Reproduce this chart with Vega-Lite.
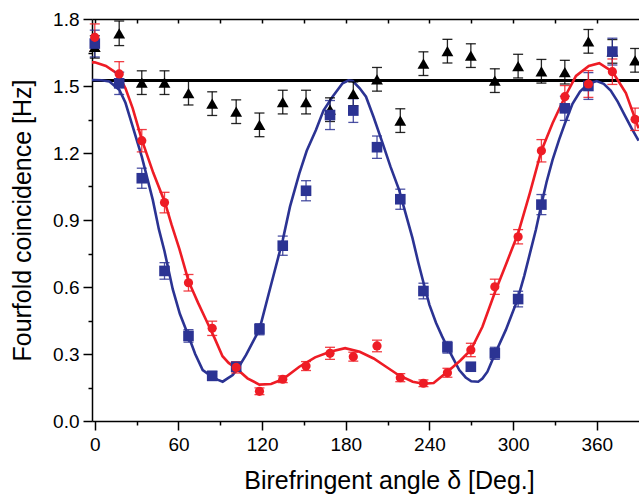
{
  "$schema": "https://vega.github.io/schema/vega-lite/v6.json",
  "width": 594,
  "height": 402,
  "autosize": {"type": "none"},
  "padding": {"left": 92, "top": 19, "right": 0, "bottom": 75},
  "background": "white",
  "config": {
    "view": {"stroke": null},
    "axis": {
      "labelFont": "Liberation Sans",
      "titleFont": "Liberation Sans",
      "labelColor": "black",
      "titleColor": "black",
      "domainColor": "black",
      "tickColor": "black",
      "domainWidth": 1.5,
      "tickWidth": 1.5,
      "labelFontSize": 19,
      "titleFontSize": 25,
      "titleFontWeight": "normal",
      "grid": false
    }
  },
  "datasets": {
    "pts": [
      {"s": "K", "a": 0, "v": 1.675, "lo": 1.625, "hi": 1.725},
      {"s": "K", "a": 17.5, "v": 1.736, "lo": 1.681, "hi": 1.791},
      {"s": "K", "a": 33.7, "v": 1.515, "lo": 1.462, "hi": 1.568},
      {"s": "K", "a": 50, "v": 1.515, "lo": 1.462, "hi": 1.568},
      {"s": "K", "a": 67.2, "v": 1.468, "lo": 1.415, "hi": 1.521},
      {"s": "K", "a": 84.2, "v": 1.421, "lo": 1.368, "hi": 1.474},
      {"s": "K", "a": 101.4, "v": 1.385, "lo": 1.332, "hi": 1.438},
      {"s": "K", "a": 118.1, "v": 1.326, "lo": 1.273, "hi": 1.379},
      {"s": "K", "a": 134.8, "v": 1.428, "lo": 1.375, "hi": 1.481},
      {"s": "K", "a": 151.5, "v": 1.428, "lo": 1.375, "hi": 1.481},
      {"s": "K", "a": 168.7, "v": 1.394, "lo": 1.341, "hi": 1.447},
      {"s": "K", "a": 185.4, "v": 1.465, "lo": 1.412, "hi": 1.518},
      {"s": "K", "a": 202.4, "v": 1.53, "lo": 1.477, "hi": 1.583},
      {"s": "K", "a": 219.1, "v": 1.345, "lo": 1.292, "hi": 1.398},
      {"s": "K", "a": 235.7, "v": 1.6, "lo": 1.547, "hi": 1.653},
      {"s": "K", "a": 252.9, "v": 1.656, "lo": 1.603, "hi": 1.709},
      {"s": "K", "a": 269.7, "v": 1.636, "lo": 1.583, "hi": 1.689},
      {"s": "K", "a": 286.9, "v": 1.524, "lo": 1.471, "hi": 1.577},
      {"s": "K", "a": 303.6, "v": 1.589, "lo": 1.536, "hi": 1.642},
      {"s": "K", "a": 320.3, "v": 1.566, "lo": 1.513, "hi": 1.619},
      {"s": "K", "a": 337.1, "v": 1.562, "lo": 1.509, "hi": 1.615},
      {"s": "K", "a": 354.0, "v": 1.7, "lo": 1.647, "hi": 1.753},
      {"s": "K", "a": 371.2, "v": 1.655, "lo": 1.602, "hi": 1.708},
      {"s": "K", "a": 387.5, "v": 1.615, "lo": 1.562, "hi": 1.668},
      {"s": "B", "a": 0, "v": 1.69, "lo": 1.63, "hi": 1.75},
      {"s": "B", "a": 17.5, "v": 1.512, "lo": 1.462, "hi": 1.562},
      {"s": "B", "a": 33.7, "v": 1.087, "lo": 1.042, "hi": 1.132},
      {"s": "B", "a": 50, "v": 0.672, "lo": 0.635, "hi": 0.709},
      {"s": "B", "a": 67.2, "v": 0.381, "lo": 0.353, "hi": 0.409},
      {"s": "B", "a": 84.2, "v": 0.202, "lo": 0.182, "hi": 0.222},
      {"s": "B", "a": 101.4, "v": 0.243, "lo": 0.223, "hi": 0.263},
      {"s": "B", "a": 118.1, "v": 0.411, "lo": 0.386, "hi": 0.436},
      {"s": "B", "a": 134.8, "v": 0.785, "lo": 0.742, "hi": 0.828},
      {"s": "B", "a": 151.5, "v": 1.031, "lo": 0.986, "hi": 1.076},
      {"s": "B", "a": 168.7, "v": 1.37, "lo": 1.305, "hi": 1.435},
      {"s": "B", "a": 185.4, "v": 1.39, "lo": 1.337, "hi": 1.443},
      {"s": "B", "a": 202.4, "v": 1.226, "lo": 1.176, "hi": 1.276},
      {"s": "B", "a": 219.1, "v": 0.993, "lo": 0.948, "hi": 1.038},
      {"s": "B", "a": 235.7, "v": 0.582, "lo": 0.547, "hi": 0.617},
      {"s": "B", "a": 252.9, "v": 0.33, "lo": 0.304, "hi": 0.356},
      {"s": "B", "a": 269.7, "v": 0.243, "lo": 0.225, "hi": 0.261},
      {"s": "B", "a": 286.9, "v": 0.303, "lo": 0.276, "hi": 0.33},
      {"s": "B", "a": 303.6, "v": 0.546, "lo": 0.511, "hi": 0.581},
      {"s": "B", "a": 320.3, "v": 0.969, "lo": 0.924, "hi": 1.014},
      {"s": "B", "a": 337.1, "v": 1.4, "lo": 1.346, "hi": 1.454},
      {"s": "B", "a": 354.0, "v": 1.5, "lo": 1.44, "hi": 1.56},
      {"s": "B", "a": 371.2, "v": 1.654, "lo": 1.594, "hi": 1.714},
      {"s": "R", "a": 0, "v": 1.718, "lo": 1.658, "hi": 1.778},
      {"s": "R", "a": 17.5, "v": 1.554, "lo": 1.499, "hi": 1.609},
      {"s": "R", "a": 33.7, "v": 1.255, "lo": 1.205, "hi": 1.305},
      {"s": "R", "a": 50, "v": 0.978, "lo": 0.932, "hi": 1.024},
      {"s": "R", "a": 67.2, "v": 0.619, "lo": 0.582, "hi": 0.656},
      {"s": "R", "a": 84.2, "v": 0.415, "lo": 0.383, "hi": 0.447},
      {"s": "R", "a": 101.4, "v": 0.24, "lo": 0.215, "hi": 0.265},
      {"s": "R", "a": 118.1, "v": 0.133, "lo": 0.118, "hi": 0.148},
      {"s": "R", "a": 134.8, "v": 0.187, "lo": 0.172, "hi": 0.202},
      {"s": "R", "a": 151.5, "v": 0.246, "lo": 0.226, "hi": 0.266},
      {"s": "R", "a": 168.7, "v": 0.303, "lo": 0.276, "hi": 0.33},
      {"s": "R", "a": 185.4, "v": 0.288, "lo": 0.268, "hi": 0.308},
      {"s": "R", "a": 202.4, "v": 0.336, "lo": 0.31, "hi": 0.362},
      {"s": "R", "a": 219.1, "v": 0.194, "lo": 0.176, "hi": 0.212},
      {"s": "R", "a": 235.7, "v": 0.169, "lo": 0.154, "hi": 0.184},
      {"s": "R", "a": 252.9, "v": 0.216, "lo": 0.196, "hi": 0.236},
      {"s": "R", "a": 269.7, "v": 0.318, "lo": 0.288, "hi": 0.348},
      {"s": "R", "a": 286.9, "v": 0.601, "lo": 0.567, "hi": 0.635},
      {"s": "R", "a": 303.6, "v": 0.825, "lo": 0.793, "hi": 0.857},
      {"s": "R", "a": 320.3, "v": 1.21, "lo": 1.16, "hi": 1.26},
      {"s": "R", "a": 337.1, "v": 1.452, "lo": 1.402, "hi": 1.502},
      {"s": "R", "a": 354.0, "v": 1.509, "lo": 1.449, "hi": 1.569},
      {"s": "R", "a": 371.2, "v": 1.564, "lo": 1.507, "hi": 1.621},
      {"s": "R", "a": 387.5, "v": 1.351, "lo": 1.301, "hi": 1.401}
    ],
    "fit": [
      {"s": "B", "a": -2, "v": 1.527}, {"s": "B", "a": 0, "v": 1.527}, {"s": "B", "a": 5, "v": 1.526},
      {"s": "B", "a": 10.5, "v": 1.52}, {"s": "B", "a": 17.7, "v": 1.482}, {"s": "B", "a": 22, "v": 1.425},
      {"s": "B", "a": 27.2, "v": 1.318}, {"s": "B", "a": 33.7, "v": 1.184}, {"s": "B", "a": 41.6, "v": 0.99},
      {"s": "B", "a": 45.9, "v": 0.86}, {"s": "B", "a": 50, "v": 0.76}, {"s": "B", "a": 55.9, "v": 0.59},
      {"s": "B", "a": 61, "v": 0.48}, {"s": "B", "a": 67.2, "v": 0.381}, {"s": "B", "a": 72, "v": 0.3},
      {"s": "B", "a": 77.4, "v": 0.228}, {"s": "B", "a": 84.2, "v": 0.198}, {"s": "B", "a": 88, "v": 0.185},
      {"s": "B", "a": 91.7, "v": 0.176}, {"s": "B", "a": 95, "v": 0.19}, {"s": "B", "a": 98.9, "v": 0.206},
      {"s": "B", "a": 103, "v": 0.24}, {"s": "B", "a": 108.5, "v": 0.296}, {"s": "B", "a": 113, "v": 0.35},
      {"s": "B", "a": 118.1, "v": 0.41}, {"s": "B", "a": 126, "v": 0.6}, {"s": "B", "a": 134.8, "v": 0.81},
      {"s": "B", "a": 140, "v": 0.96}, {"s": "B", "a": 146.7, "v": 1.109}, {"s": "B", "a": 152, "v": 1.21},
      {"s": "B", "a": 158.6, "v": 1.303}, {"s": "B", "a": 164, "v": 1.39}, {"s": "B", "a": 170.5, "v": 1.452},
      {"s": "B", "a": 177.7, "v": 1.512}, {"s": "B", "a": 182, "v": 1.525}, {"s": "B", "a": 185, "v": 1.522},
      {"s": "B", "a": 190, "v": 1.49}, {"s": "B", "a": 194.5, "v": 1.452}, {"s": "B", "a": 200, "v": 1.36},
      {"s": "B", "a": 206.4, "v": 1.244}, {"s": "B", "a": 212, "v": 1.14}, {"s": "B", "a": 218.3, "v": 1.034},
      {"s": "B", "a": 222, "v": 0.95}, {"s": "B", "a": 227.8, "v": 0.82}, {"s": "B", "a": 232, "v": 0.71},
      {"s": "B", "a": 235.7, "v": 0.62}, {"s": "B", "a": 240, "v": 0.52}, {"s": "B", "a": 244.7, "v": 0.44},
      {"s": "B", "a": 249, "v": 0.38}, {"s": "B", "a": 252.9, "v": 0.33}, {"s": "B", "a": 257, "v": 0.28},
      {"s": "B", "a": 261.4, "v": 0.228}, {"s": "B", "a": 266, "v": 0.195}, {"s": "B", "a": 270, "v": 0.178},
      {"s": "B", "a": 275, "v": 0.176}, {"s": "B", "a": 278, "v": 0.19}, {"s": "B", "a": 281.6, "v": 0.221},
      {"s": "B", "a": 287.2, "v": 0.303}, {"s": "B", "a": 294.8, "v": 0.408}, {"s": "B", "a": 303.1, "v": 0.542},
      {"s": "B", "a": 308, "v": 0.65}, {"s": "B", "a": 312.7, "v": 0.766}, {"s": "B", "a": 316.3, "v": 0.855},
      {"s": "B", "a": 320.3, "v": 0.969}, {"s": "B", "a": 324, "v": 1.07}, {"s": "B", "a": 328.3, "v": 1.169},
      {"s": "B", "a": 333, "v": 1.26}, {"s": "B", "a": 337.2, "v": 1.333}, {"s": "B", "a": 342.6, "v": 1.42},
      {"s": "B", "a": 348, "v": 1.475}, {"s": "B", "a": 354.1, "v": 1.51}, {"s": "B", "a": 360, "v": 1.522},
      {"s": "B", "a": 365, "v": 1.51}, {"s": "B", "a": 370, "v": 1.48}, {"s": "B", "a": 375, "v": 1.43},
      {"s": "B", "a": 380, "v": 1.37}, {"s": "B", "a": 385, "v": 1.31}, {"s": "B", "a": 390, "v": 1.255},
      {"s": "R", "a": -2, "v": 1.606}, {"s": "R", "a": 0, "v": 1.606}, {"s": "R", "a": 8, "v": 1.59},
      {"s": "R", "a": 16.5, "v": 1.554}, {"s": "R", "a": 22, "v": 1.49}, {"s": "R", "a": 27.2, "v": 1.4},
      {"s": "R", "a": 33.7, "v": 1.26}, {"s": "R", "a": 42, "v": 1.11}, {"s": "R", "a": 50.5, "v": 0.975},
      {"s": "R", "a": 55, "v": 0.88}, {"s": "R", "a": 60.7, "v": 0.77}, {"s": "R", "a": 67.3, "v": 0.625},
      {"s": "R", "a": 74, "v": 0.53}, {"s": "R", "a": 80, "v": 0.45}, {"s": "R", "a": 86, "v": 0.37},
      {"s": "R", "a": 91.6, "v": 0.29}, {"s": "R", "a": 96, "v": 0.26}, {"s": "R", "a": 101.4, "v": 0.236},
      {"s": "R", "a": 109.5, "v": 0.191}, {"s": "R", "a": 118, "v": 0.163}, {"s": "R", "a": 126.4, "v": 0.166},
      {"s": "R", "a": 134.8, "v": 0.187}, {"s": "R", "a": 146.7, "v": 0.243}, {"s": "R", "a": 158, "v": 0.285},
      {"s": "R", "a": 168.7, "v": 0.31}, {"s": "R", "a": 179.5, "v": 0.326}, {"s": "R", "a": 190, "v": 0.31},
      {"s": "R", "a": 200, "v": 0.28}, {"s": "R", "a": 208.9, "v": 0.243}, {"s": "R", "a": 218, "v": 0.205},
      {"s": "R", "a": 228, "v": 0.176}, {"s": "R", "a": 235.7, "v": 0.167}, {"s": "R", "a": 243, "v": 0.17},
      {"s": "R", "a": 252.9, "v": 0.221}, {"s": "R", "a": 262, "v": 0.27}, {"s": "R", "a": 269.7, "v": 0.318},
      {"s": "R", "a": 278, "v": 0.422}, {"s": "R", "a": 286.9, "v": 0.575}, {"s": "R", "a": 294.8, "v": 0.7},
      {"s": "R", "a": 303.6, "v": 0.84}, {"s": "R", "a": 312, "v": 1.02}, {"s": "R", "a": 320.3, "v": 1.21},
      {"s": "R", "a": 328.3, "v": 1.333}, {"s": "R", "a": 337.2, "v": 1.452}, {"s": "R", "a": 345.1, "v": 1.545},
      {"s": "R", "a": 354.3, "v": 1.59}, {"s": "R", "a": 361.8, "v": 1.602}, {"s": "R", "a": 371.3, "v": 1.564},
      {"s": "R", "a": 380.9, "v": 1.468}, {"s": "R", "a": 390, "v": 1.31}
    ],
    "ref": [{"a": -2, "v": 1.525}, {"a": 424, "v": 1.525}]
  },
  "resolve": {"axis": {"x": "independent", "y": "independent"}},
  "layer": [
    {
      "data": {"name": "ref"},
      "mark": {"type": "line", "color": "black", "strokeWidth": 3},
      "encoding": {
        "x": {
          "field": "a", "type": "quantitative",
          "scale": {"domain": [-2, 424], "nice": false, "zero": false},
          "axis": {
            "orient": "bottom",
            "title": null,
            "labels": false,
            "domain": false,
            "values": [30, 90, 150, 210, 270, 330],
            "tickSize": 4
          }
        },
        "y": {
          "field": "v", "type": "quantitative",
          "scale": {"domain": [0, 1.8], "nice": false, "zero": false},
          "axis": {
            "orient": "left",
            "title": null,
            "labels": false,
            "domain": false,
            "values": [0.15, 0.45, 0.75, 1.05, 1.35, 1.65],
            "tickSize": 4
          }
        }
      }
    },
    {
      "data": {"name": "fit"},
      "mark": {"type": "line", "strokeWidth": 2.6, "clip": true},
      "encoding": {
        "x": {
          "field": "a", "type": "quantitative",
          "axis": {
            "orient": "bottom",
            "title": "Birefringent angle δ [Deg.]",
            "values": [0, 60, 120, 180, 240, 300, 360],
            "tickSize": 9,
            "labelPadding": 5,
            "labelFlush": false,
            "labelOverlap": false,
            "titlePadding": 14
          }
        },
        "y": {
          "field": "v", "type": "quantitative",
          "axis": {
            "orient": "left",
            "title": "Fourfold coincidence [Hz]",
            "values": [0, 0.3, 0.6, 0.9, 1.2, 1.5, 1.8],
            "format": ".1f",
            "tickSize": 9,
            "labelPadding": 4,
            "labelFlush": false,
            "labelOverlap": false,
            "titlePadding": 17
          }
        },
        "color": {
          "field": "s", "type": "nominal",
          "scale": {"domain": ["K", "B", "R"], "range": ["#000000", "#2B3393", "#EE1C25"]},
          "legend": null
        }
      }
    },
    {
      "data": {"name": "pts"},
      "mark": {"type": "errorbar", "ticks": {"size": 10}, "thickness": 1.3, "opacity": 0.85},
      "encoding": {
        "x": {
          "field": "a", "type": "quantitative",
          "axis": {
            "orient": "top",
            "title": null,
            "labels": false,
            "values": [0, 30, 60, 90, 120, 150, 180, 210, 240, 270, 300, 330, 360],
            "tickSize": -4
          }
        },
        "y": {"field": "lo", "type": "quantitative", "axis": null},
        "y2": {"field": "hi"},
        "color": {
          "field": "s", "type": "nominal",
          "scale": {"domain": ["K", "B", "R"], "range": ["#000000", "#2B3393", "#EE1C25"]},
          "legend": null
        }
      }
    },
    {
      "data": {"name": "pts"},
      "mark": {"type": "point", "filled": true, "opacity": 1},
      "encoding": {
        "x": {"field": "a", "type": "quantitative", "axis": null},
        "y": {"field": "v", "type": "quantitative", "axis": null},
        "color": {
          "field": "s", "type": "nominal",
          "scale": {"domain": ["K", "B", "R"], "range": ["#000000", "#2B3393", "#EE1C25"]},
          "legend": null
        },
        "shape": {
          "field": "s", "type": "nominal",
          "scale": {"domain": ["K", "B", "R"], "range": ["triangle-up", "square", "circle"]},
          "legend": null
        },
        "size": {
          "field": "s", "type": "nominal",
          "scale": {"domain": ["K", "B", "R"], "range": [140, 85, 110]},
          "legend": null
        }
      }
    }
  ]
}
